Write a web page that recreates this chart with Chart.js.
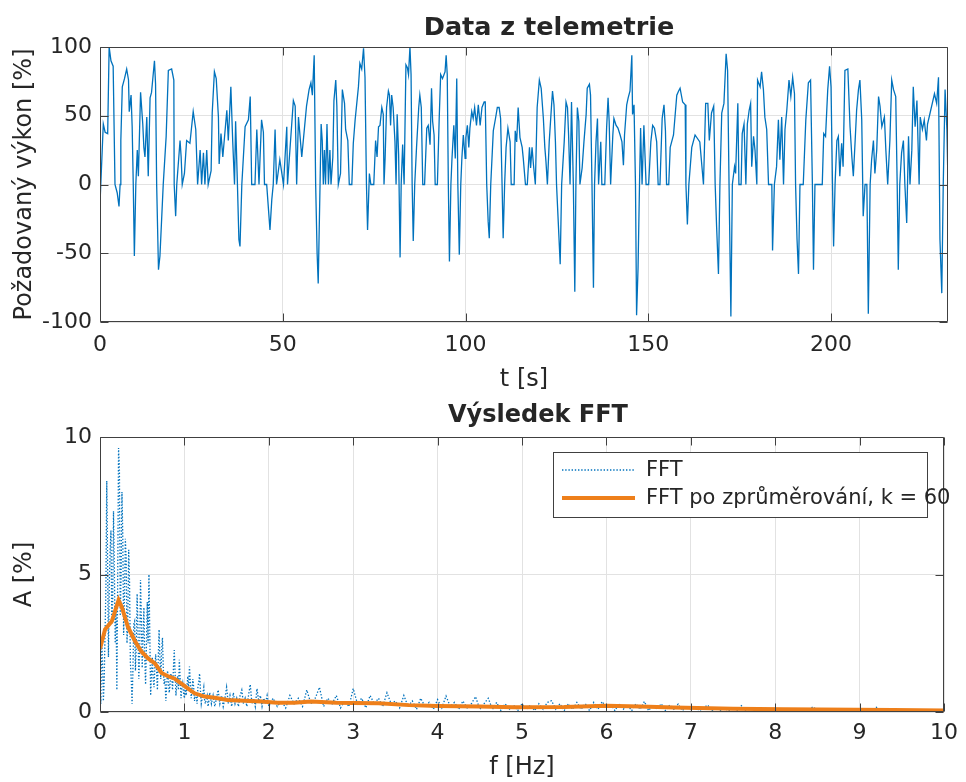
<!DOCTYPE html>
<html><head><meta charset="utf-8">
<script src="https://cdn.jsdelivr.net/npm/chart.js@4.4.1/dist/chart.umd.min.js"></script>
<style>
html,body{margin:0;padding:0;background:#fff;}
#wrap{position:relative;width:966px;height:782px;overflow:hidden;background:#fff;}
#c1{position:absolute;left:0;top:0;width:966px;height:400px;}
#c2{position:absolute;left:0;top:386px;width:966px;height:396px;}
</style></head><body>
<div id="wrap"><canvas id="c1" width="966" height="400"></canvas><canvas id="c2" width="966" height="396"></canvas></div>
<script>
// ---------- DATA ----------
const topTitle = 'Data z telemetrie';
const bottomTitle = 'Výsledek FFT';
// Telemetry: [time s, requested power %]
const telemetry = [
[0,-14],[0.9,44],[1.4,38],[2.1,37],[2.5,100],[3.0,90],[3.6,86],[4.1,0],[4.7,-6],[5.2,-16],
[5.5,0],[5.7,32],[6.1,71],[6.7,77],[7.3,84],[7.8,76],[8.0,53],[8.5,65],[8.8,42],[9.1,0],
[9.4,-52],[9.8,0],[10.2,25],[10.5,6],[11.1,67],[11.7,44],[12.0,27],[12.3,20],[12.8,49],[13.2,6],
[13.7,63],[14.1,67],[14.9,90],[15.2,73],[15.5,0],[16.0,-62],[16.4,-52],[17.3,0],[18.1,35],[18.7,83],
[19.6,84],[20.2,76],[20.3,0],[20.7,-23],[21.0,0],[21.9,32],[22.2,20],[22.5,0],[23.1,8],[23.7,32],
[24.6,30],[25.5,53],[26.2,40],[26.7,0],[27.4,25],[27.8,0],[28.3,23],[28.7,0],[29.2,25],[29.6,0],
[30.4,10],[30.7,52],[31.3,82],[31.8,77],[32.4,49],[32.6,15],[33.1,37],[33.6,20],[34.7,54],[35.1,32],
[35.8,71],[36.3,32],[36.8,0],[37.1,46],[37.6,0],[38.0,-40],[38.3,-45],[38.8,0],[39.7,42],[40.6,47],
[41.1,64],[41.5,0],[42.4,0],[42.9,40],[43.5,0],[44.2,47],[44.7,38],[45.0,0],[45.6,0],[46.5,-33],
[47.0,-11],[47.4,0],[47.9,40],[48.3,0],[49.2,18],[50.2,0],[51.1,42],[51.3,0],[52.9,61],[53.4,57],
[53.8,0],[54.3,49],[55.2,20],[56.5,57],[57.2,69],[57.7,74],[58.1,65],[58.6,94],[59.0,0],[59.4,-50],
[59.7,-72],[60.2,0],[60.5,44],[60.8,32],[61.1,0],[61.4,25],[61.7,0],[62.1,44],[62.5,0],[62.9,25],
[63.2,0],[63.7,20],[64.0,61],[64.5,76],[64.8,57],[65.2,0],[65.8,8],[66.3,69],[66.9,59],[67.2,40],
[67.8,32],[68.2,0],[68.9,0],[69.3,30],[69.8,47],[70.7,71],[71.1,88],[71.6,84],[72.1,99],[72.5,78],
[72.9,0],[73.2,-33],[73.7,8],[74.1,0],[74.9,0],[75.4,32],[75.8,20],[76.2,42],
[76.6,43],[77.1,56],[77.5,51],[77.7,0],[78.0,19],[78.4,56],[78.9,68],[79.2,65],[79.5,43],[79.8,65],
[80.2,56],[80.7,31],[81.0,0],[81.3,51],[81.7,22],[82.1,-53],[82.4,0],[82.8,29],[83.2,0],[83.7,87],
[84.1,85],[84.4,80],[84.8,100],[85.1,80],[85.4,0],[85.7,-41],[86.1,0],[86.6,27],[87.2,56],[87.5,65],
[87.9,56],[88.3,0],[88.8,0],[89.4,41],[89.8,43],[90.3,29],[90.7,70],[91.0,46],[91.4,36],[91.7,0],
[92.3,0],[92.8,48],[93.2,80],[93.7,77],[94.4,82],[94.7,94],[95.0,80],[95.3,0],[95.6,-56],[96.0,0],
[96.3,19],[96.8,43],[97.2,19],[97.6,77],[97.9,0],[98.3,-51],[98.7,0],[99.0,19],[99.4,36],[99.9,19],
[100.1,34],[100.5,43],[100.9,27],[101.2,41],[101.7,53],[102.1,48],[102.5,56],[103.0,43],[103.5,58],[104.0,43],
[104.5,56],[105.1,60],[105.4,60],[105.8,0],[106.2,-27],[106.5,-39],[106.9,0],[107.6,39],[108.2,48],[108.7,56],
[109.2,56],[109.6,48],[110.0,0],[110.3,-39],[110.7,0],[111.1,27],[111.6,41],[112.2,31],[112.5,0],[113.3,0],
[113.6,39],[114.0,31],[114.4,56],[114.9,34],[115.5,27],[115.8,19],[116.4,0],[116.9,0],[117.5,27],[117.8,12],
[118.2,27],[118.6,14],[119.1,0],[119.6,56],[120.2,76],[120.7,70],[121.3,48],[121.7,27],[122.0,17],[122.4,0],
[122.9,31],[123.5,56],[123.8,68],[124.2,58],[124.6,31],[124.9,0],[125.4,-29],[125.9,-58],[126.3,0],[127.0,31],
[127.5,60],[127.9,56],[128.2,36],[128.6,0],[129.0,60],[129.5,0],[129.9,-78],[130.2,0],[130.6,56],[131.0,46],
[131.3,0],[131.9,12],[132.4,31],[133.0,51],[133.3,70],[133.9,73],[134.2,65],[134.6,0],[135.0,-75],[135.3,0],
[135.7,31],[136.1,48],[136.4,0],[137.0,31],[137.3,0],[138.1,0],[138.6,41],[139.0,63],[139.3,46],[139.7,0],
[140.3,36],[140.6,48],[141.2,43],[141.7,41],[142.3,36],[142.8,31],[143.2,14],[143.5,36],[144.1,58],[144.5,63],
[145.0,68],[145.5,94],[145.7,51],[146.1,58],[146.5,0],[146.8,-95],[147.2,-61],[147.6,0],[147.9,41],[148.3,0],
[148.8,43],[149.4,0],[150.1,0],[150.7,31],[151.2,43],[151.7,41],[152.3,31],[152.7,0],[153.2,0],[153.8,48],
[154.3,58],[154.7,39],[155.0,0],[155.6,0],[156.0,27],[156.9,36],[157.8,65],[158.3,68],[158.7,70],[159.4,60],
[160.1,58],[160.3,0],[160.7,-29],[161.1,0],[161.9,27],[162.8,36],[164.1,31],[165.1,0],
[165.7,59],[166.3,59],[166.7,32],
[167.3,52],[167.9,57],[168.3,0],[168.7,-31],[169.2,-65],[169.6,0],[170.1,52],[170.7,59],[171.3,95],[171.7,83],
[172.1,0],[172.6,-96],[173.0,0],[173.6,13],[173.9,8],[174.5,59],[174.8,0],[175.4,0],[175.7,37],[176.2,44],
[176.7,0],[177.1,44],[177.6,54],[178.0,59],[178.3,13],[178.8,35],[179.2,25],[179.7,0],[179.9,76],[180.6,71],
[181.0,82],[181.5,69],[181.9,49],[182.4,40],[182.9,0],[183.8,0],[184.0,-48],[184.5,0],[185.1,13],[185.6,47],
[186.0,18],[186.5,49],[187.0,0],[187.4,40],[187.9,54],[188.5,76],[189.0,64],[189.5,78],[190.0,66],[190.3,0],
[190.7,-40],[191.1,-65],[191.5,0],[192.4,0],[193.1,47],[193.8,74],[194.4,76],[194.9,0],[195.2,-62],[195.6,0],
[197.6,0],[198.0,37],[198.5,35],[199.1,69],[199.6,86],[200.0,71],[200.4,0],[200.7,-45],[201.1,0],[201.6,32],
[202.0,35],[202.4,6],[202.9,30],[203.3,13],[203.8,83],[204.6,84],[205.2,42],[205.7,20],[206.1,6],[206.6,32],
[207.0,54],[207.5,69],[207.9,76],[208.4,47],[208.8,-23],[209.3,0],[209.8,0],[210.2,-94],[210.7,0],[211.1,18],
[211.6,32],[212.0,8],[212.5,25],[213.0,64],[213.4,57],[213.9,42],[214.6,49],[215.0,25],[215.5,0],[216.1,32],
[216.6,76],[217.1,69],[217.7,64],[218.1,0],[218.4,-62],[218.8,0],[219.3,23],[219.8,32],[220.2,0],[220.7,-28],
[221.2,35],[221.6,0],[222.1,25],[222.5,71],[223.0,42],[223.5,61],[224.1,0],[224.4,49],[225.0,40],[225.5,47],
[226.1,32],[226.4,44],[227.1,52],[227.7,59],[228.3,66],[228.9,59],[229.4,78],[229.8,-40],[230.3,-79],[230.7,0],
[231.2,69],[231.7,40],[232.0,0]
];

// FFT spectrum (frequency Hz, amplitude %)
const fftFreq = [
0,0.01,0.02,0.03,0.04,0.05,0.06,0.07,0.08,0.09,0.1,0.11,0.12,0.13,0.14,0.15,0.16,0.17,0.18,0.19,
0.2,0.21,0.22,0.23,0.24,0.25,0.26,0.27,0.28,0.29,0.3,0.31,0.32,0.33,0.34,0.35,0.36,0.37,0.38,0.39,
0.4,0.41,0.42,0.43,0.44,0.45,0.46,0.47,0.48,0.49,0.5,0.51,0.52,0.53,0.54,0.55,0.56,0.57,0.58,0.59,
0.6,0.61,0.62,0.63,0.64,0.65,0.66,0.67,0.68,0.69,0.7,0.71,0.72,0.73,0.74,0.75,0.76,0.77,0.78,0.79,
0.8,0.81,0.82,0.83,0.84,0.85,0.86,0.87,0.88,0.89,0.9,0.91,0.92,0.93,0.94,0.95,0.96,0.97,0.98,0.99,
1,1.01,1.02,1.03,1.04,1.05,1.06,1.07,1.08,1.09,1.1,1.11,1.12,1.13,1.14,1.15,1.16,1.17,1.18,1.19,
1.2,1.21,1.22,1.23,1.24,1.25,1.26,1.27,1.28,1.29,1.3,
1.32,1.34,1.36,1.38,1.4,1.42,1.44,1.46,1.48,1.5,1.52,1.54,1.56,1.58,
1.6,1.62,1.64,1.66,1.68,1.7,1.72,1.74,1.76,1.78,
1.8,1.82,1.84,1.86,1.88,1.9,1.92,1.94,1.96,1.98,
2,
2.05,2.1,2.15,2.2,2.25,2.3,2.35,2.4,2.45,2.5,2.55,2.6,2.65,2.7,2.75,2.8,2.85,2.9,2.95,3,
3.05,3.1,3.15,3.2,3.25,3.3,3.35,3.4,3.45,3.5,3.55,3.6,3.65,3.7,3.75,3.8,3.85,3.9,3.95,4,
4.05,4.1,4.15,4.2,4.25,4.3,4.35,4.4,4.45,4.5,4.55,4.6,4.65,4.7,4.75,4.8,4.85,4.9,4.95,5,
5.05,5.1,5.15,5.2,5.25,5.3,5.35,5.4,5.45,5.5,5.55,5.6,5.65,5.7,5.75,5.8,5.85,5.9,5.95,6,
6.05,6.1,6.15,6.2,6.25,6.3,6.35,6.4,6.45,6.5,6.55,6.6,6.65,6.7,6.75,6.8,6.85,6.9,6.95,7,
7.05,7.1,7.15,7.2,7.25,7.3,7.35,7.4,7.45,7.5,7.55,7.6,7.65,7.7,7.75,7.8,7.85,7.9,7.95,8,
8.05,8.1,8.15,8.2,8.25,8.3,8.35,8.4,8.45,8.5,8.55,8.6,8.65,8.7,8.75,8.8,8.85,8.9,8.95,9,
9.05,9.1,9.15,9.2,9.25,9.3,9.35,9.4,9.45,9.5,9.55,9.6,9.65,9.7,9.75,9.8,9.85,9.9,9.95,10
];
const fftAmp = [
1.0,0.3,2.6,1.8,0.4,1.2,2.9,4.5,8.4,5.5,2.0,4.6,5.9,6.6,3.2,4.0,7.3,5.2,2.5,3.8,
0.8,5.0,9.6,8.8,3.5,5.0,8.0,6.4,2.8,4.2,6.3,5.6,2.5,3.5,5.9,4.7,1.8,1.2,0.3,1.5,
3.2,3.3,1.5,2.5,4.3,3.0,1.2,2.2,4.8,3.4,1.6,2.8,3.8,2.0,1.0,2.4,4.0,2.5,5.0,2.8,
0.6,1.4,2.0,1.2,0.9,1.6,2.1,1.5,0.8,1.9,3.0,2.0,1.2,2.2,2.7,1.6,1.0,1.2,0.4,0.9,
1.5,1.2,0.7,1.0,1.4,1.2,0.8,1.6,2.25,1.4,0.6,1.0,1.3,0.8,1.9,1.2,0.5,0.9,1.05,0.7,
0.5,1.0,0.6,0.9,1.3,0.8,1.65,1.1,0.5,0.8,1.2,0.9,0.4,0.7,0.6,0.3,0.9,1.1,1.4,0.8,
0.3,0.5,0.7,0.9,0.4,0.3,0.5,0.6,0.2,0.4,0.7,
0.3,0.6,0.2,0.5,0.8,0.3,0.6,0.2,0.5,0.9,0.3,0.6,0.2,0.7,
0.3,0.5,0.2,0.6,0.8,0.3,0.5,0.2,0.6,1.0,
0.3,0.5,0.2,0.85,0.4,0.6,0.2,0.5,0.3,0.6,
0.2,
0.5,0.2,0.4,0.15,0.6,0.3,0.5,0.2,0.8,0.3,0.5,0.9,0.2,0.5,0.3,0.6,0.15,0.4,0.2,0.85,
0.3,0.5,0.15,0.6,0.3,0.5,0.2,0.7,0.3,0.4,0.15,0.6,0.2,0.4,0.1,0.5,0.2,0.35,0.1,0.45,
0.15,0.58,0.2,0.35,0.1,0.4,0.15,0.3,0.56,0.1,0.3,0.5,0.1,0.35,0.05,0.3,0.1,0.25,0.05,0.3,
0.1,0.25,0.05,0.3,0.1,0.35,0.41,0.1,0.3,0.05,0.3,0.1,0.35,0.1,0.3,0.05,0.35,0.1,0.38,0.15,
0.3,0.05,0.3,0.1,0.25,0.05,0.3,0.1,0.38,0.05,0.25,0.1,0.3,0.05,0.25,0.1,0.29,0.05,0.2,0.1,
0.2,0.05,0.15,0.25,0.05,0.15,0.05,0.12,0.05,0.15,0.05,0.23,0.05,0.12,0.04,0.1,0.05,0.15,0.04,0.1,
0.05,0.12,0.04,0.1,0.05,0.12,0.04,0.1,0.19,0.04,0.1,0.05,0.1,0.04,0.08,0.03,0.1,0.04,0.08,0.03,
0.1,0.04,0.08,0.17,0.03,0.08,0.03,0.07,0.03,0.08,0.02,0.06,0.03,0.06,0.02,0.05,0.02,0.04,0.02,0.03
];
// Moving-average (k = 60) of the FFT
const avgFreq = [0,0.06,0.14,0.22,0.26,0.33,0.41,0.49,0.57,0.65,0.73,0.81,0.88,0.96,1.04,1.12,1.24,1.36,1.51,1.71,1.91,2.1,2.3,2.5,2.8,3.0,3.3,3.66,4.0,4.5,4.9,5.5,6.0,6.4,6.8,7.5,8.1,9.4,10];
const avgAmp  = [2.3,3.0,3.3,4.07,3.8,3.1,2.6,2.2,1.95,1.77,1.42,1.29,1.22,1.04,0.86,0.68,0.56,0.52,0.44,0.41,0.38,0.34,0.34,0.38,0.34,0.33,0.32,0.25,0.22,0.2,0.17,0.18,0.23,0.2,0.16,0.12,0.1,0.07,0.05];

const seriesLabels = ['FFT', 'FFT po zprůměrování, k = 60'];
const topXTicks = [0,50,100,150,200];
const topYTicks = [-100,-50,0,50,100];
const botXTicks = [0,1,2,3,4,5,6,7,8,9,10];
const botYTicks = [0,5,10];

// ---------- STYLE ----------
const FONT = "'DejaVu Sans', 'Liberation Sans', sans-serif";
const TXT = '#262626';
const GRID = '#e2e2e2';
const BLUE = '#0072BD';
const ORANGE = '#EE7F1A';

const boxTicks = {
  id: 'boxTicks',
  afterDatasetsDraw(chart) {
    const {ctx, chartArea: a, scales: {x, y}} = chart;
    const L = Math.round(a.left) + 0.5, R = Math.round(a.right) - 0.5;
    const T = Math.round(a.top) + 0.5, B = Math.round(a.bottom) - 0.5;
    const tl = 8;
    ctx.save();
    ctx.strokeStyle = '#404040';
    ctx.lineWidth = 1;
    ctx.beginPath();
    ctx.rect(L, T, R - L, B - T);
    x.ticks.forEach(t => {
      const p = Math.round(x.getPixelForValue(t.value)) + 0.5;
      ctx.moveTo(p, B); ctx.lineTo(p, B - tl);
      ctx.moveTo(p, T); ctx.lineTo(p, T + tl);
    });
    y.ticks.forEach(t => {
      const p = Math.round(y.getPixelForValue(t.value)) + 0.5;
      ctx.moveTo(L, p); ctx.lineTo(L + tl, p);
      ctx.moveTo(R, p); ctx.lineTo(R - tl, p);
    });
    ctx.stroke();
    ctx.restore();
  }
};

// Plot title drawn at the position used in the reference figure
const plotTitle = {
  id: 'plotTitle',
  afterDraw(chart, args, opts) {
    const ctx = chart.ctx;
    ctx.save();
    ctx.fillStyle = TXT;
    ctx.font = 'bold ' + opts.size + 'px ' + FONT;
    ctx.textAlign = 'center';
    ctx.textBaseline = 'middle';
    ctx.fillText(opts.text, opts.x, opts.y);
    ctx.restore();
  }
};

const fftLegend = {
  id: 'fftLegend',
  afterDraw(chart) {
    const ctx = chart.ctx;
    const bx = 553.5, by = 66.5, bw = 374, bh = 65;
    ctx.save();
    ctx.fillStyle = '#fff';
    ctx.fillRect(bx, by, bw, bh);
    ctx.strokeStyle = '#404040';
    ctx.lineWidth = 1;
    ctx.strokeRect(bx, by, bw, bh);
    const rows = [84, 112];
    chart.data.datasets.forEach((ds, i) => {
      const yy = rows[i];
      ctx.beginPath();
      ctx.strokeStyle = ds.borderColor;
      ctx.lineWidth = ds.borderWidth;
      ctx.setLineDash(ds.borderDash || []);
      ctx.moveTo(562, yy); ctx.lineTo(635, yy);
      ctx.stroke();
      ctx.setLineDash([]);
      ctx.fillStyle = TXT;
      ctx.font = "21px " + FONT;
      ctx.textBaseline = 'middle';
      ctx.textAlign = 'left';
      ctx.fillText(ds.label, 646, yy + 1);
    });
    ctx.restore();
  }
};

function axisOpts(cfg) {
  return {
    type: 'linear', min: cfg.min, max: cfg.max,
    afterBuildTicks: s => { s.ticks = cfg.ticks.map(v => ({value: v})); },
    afterFit: cfg.fit,
    ticks: {color: TXT, font: {family: FONT, size: 22}, padding: cfg.pad, maxRotation: 0, autoSkip: false, callback: v => String(v)},
    grid: {color: GRID, lineWidth: 1, drawTicks: false},
    border: {display: false},
    title: {display: true, text: cfg.title, color: TXT, font: {family: FONT, size: 24, lineHeight: 1.2}, padding: cfg.tpad}
  };
}

function baseOpts(titleCfg, topPad, xcfg, ycfg) {
  return {
    responsive: false, animation: false, devicePixelRatio: 1,
    layout: {padding: {left: 0, right: 18, top: topPad, bottom: 0}},
    plugins: {
      legend: {display: false}, tooltip: {enabled: false}, title: {display: false},
      plotTitle: titleCfg
    },
    scales: {x: axisOpts(xcfg), y: axisOpts(ycfg)}
  };
}

new Chart(document.getElementById('c1'), {
  type: 'line',
  data: {datasets: [{
    label: 'Požadovaný výkon',
    data: telemetry.map(p => ({x: p[0], y: p[1]})),
    borderColor: BLUE, borderWidth: 1.3, pointRadius: 0, tension: 0, fill: false
  }]},
  options: baseOpts({text: topTitle, x: 549, y: 28, size: 25.5}, 47,
    {min: 0, max: 232, ticks: topXTicks, fit: s => { s.height = 78; }, pad: 10, title: 't [s]', tpad: {top: 0, bottom: 5.6}},
    {min: -100, max: 100, ticks: topYTicks, fit: s => { s.width = 100; }, pad: 8, title: 'Požadovaný výkon [%]', tpad: {top: 10.6, bottom: 0}}),
  plugins: [boxTicks, plotTitle]
});

new Chart(document.getElementById('c2'), {
  type: 'line',
  data: {datasets: [
    {label: seriesLabels[0], data: fftFreq.map((f, i) => ({x: f, y: fftAmp[i]})),
     borderColor: BLUE, borderWidth: 1.3, borderDash: [1.4, 1.8], pointRadius: 0, tension: 0, fill: false, order: 2},
    {label: seriesLabels[1], data: avgFreq.map((f, i) => ({x: f, y: avgAmp[i]})),
     borderColor: ORANGE, borderWidth: 4, pointRadius: 0, tension: 0, fill: false, order: 1}
  ]},
  options: baseOpts({text: bottomTitle, x: 538, y: 30, size: 24}, 51,
    {min: 0, max: 10, ticks: botXTicks, fit: s => { s.height = 70; }, pad: 8, title: 'f [Hz]', tpad: {top: 0, bottom: 0}},
    {min: 0, max: 10, ticks: botYTicks, fit: s => { s.width = 100; }, pad: 8, title: 'A [%]', tpad: {top: 10.6, bottom: 0}}),
  plugins: [boxTicks, plotTitle, fftLegend]
});
</script>
</body></html>
